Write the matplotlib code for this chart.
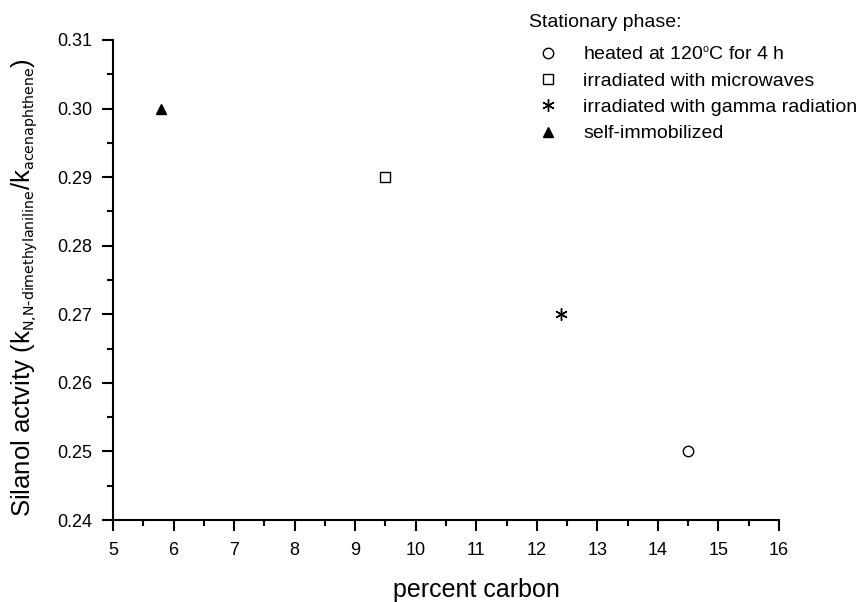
import matplotlib
matplotlib.use("Agg")
import matplotlib.pyplot as plt
import matplotlib._mathtext as mathtext_internals
from matplotlib.ticker import MultipleLocator

plt.rcParams['font.family'] = ['Liberation Sans', 'DejaVu Sans']
plt.rcParams['mathtext.default'] = 'regular'
# smaller subscripts, like the original figure
mathtext_internals.SHRINK_FACTOR = 0.55

# data
carbon = [14.5, 9.5, 12.4, 5.8]
activity = [0.25, 0.29, 0.27, 0.30]
labels = ["heated at 120$^{o}$C for 4 h",
          "irradiated with microwaves",
          "irradiated with gamma radiation",
          "self-immobilized"]
markers = ["o", "s", (6, 2, 0), "^"]
faces = ["white", "white", "black", "black"]

fig = plt.figure(figsize=(8.58, 6.02), dpi=100)
ax = fig.add_axes([0.1317, 0.1362, 0.7762, 0.7974])

for x, y, lab, m, fc in zip(carbon, activity, labels, markers, faces):
    ax.plot(x, y, linestyle="none", marker=m, markersize=7.5 if m != (6, 2, 0) else 9,
            markerfacecolor=fc, markeredgecolor="black", markeredgewidth=1.0, label=lab)

ax.set_xlim(5, 16)
ax.set_ylim(0.24, 0.31)
ax.xaxis.set_major_locator(MultipleLocator(1))
ax.xaxis.set_minor_locator(MultipleLocator(0.5))
ax.yaxis.set_major_locator(MultipleLocator(0.01))
ax.yaxis.set_minor_locator(MultipleLocator(0.005))
ax.yaxis.set_major_formatter(plt.FormatStrFormatter("%.2f"))

ax.spines["top"].set_visible(False)
ax.spines["right"].set_visible(False)
ax.spines["left"].set_linewidth(1.5)
ax.spines["bottom"].set_linewidth(1.5)
ax.tick_params(which="major", direction="out", length=8, width=1.5, labelsize=13)
ax.tick_params(which="minor", direction="out", length=4, width=1.5)
ax.tick_params(axis="x", pad=8)
ax.tick_params(axis="y", pad=7)

ax.set_xlabel("percent carbon", fontsize=18)
ax.xaxis.label.set_va("center")
ax.xaxis.set_label_coords(476 / 858, 1 - 590 / 602, transform=fig.transFigure)
ax.set_ylabel(r"Silanol actvity (k$_{\text{N,N-dimethylaniline}}$/k$_{\text{acenaphthene}}$)", fontsize=18.5)
ax.yaxis.label.set_va("center")
ax.yaxis.set_label_coords(24 / 858, 1 - 288 / 602, transform=fig.transFigure)

leg = ax.legend(loc="upper left", bbox_to_anchor=(0.607, 0.99), bbox_transform=fig.transFigure,
                frameon=False, fontsize=14, title="Stationary phase:", title_fontsize=14,
                handlelength=2.0, handletextpad=0.8, labelspacing=0.45, borderaxespad=0)
leg._legend_box.align = "left"
leg._legend_box.sep = 0.45 * 14 + 4.5

fig.savefig("out.png", dpi=100)
